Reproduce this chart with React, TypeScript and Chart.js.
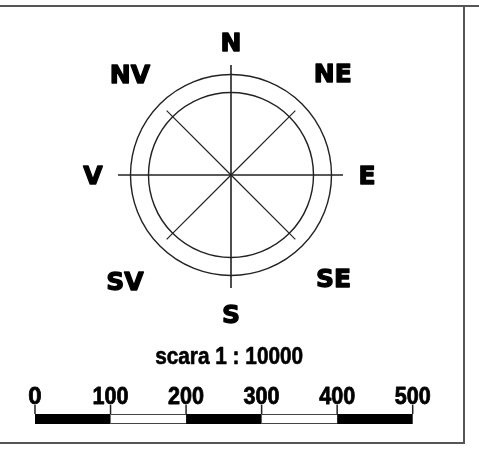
import React, { useEffect, useRef } from 'react';
import { Chart, registerables } from 'chart.js';
Chart.register(...registerables);

// Compass data
const directions = ['N', 'NE', 'E', 'SE', 'S', 'SV', 'V', 'NV'];
const bearings = [0, 45, 90, 135, 180, 225, 270, 315];
const spokeLengths = [110, 91, 112, 91, 113, 91, 113, 91];
const labelRadii = [133, 144, 136, 145, 139, 150, 138, 143];
const ringRadii = [100.5, 82.5];

// Scale bar data
const scaleTicks = [0, 100, 200, 300, 400, 500];
const scaleFilled = [true, false, true, false, true];
const scaleTitle = 'scara 1 : 10000';

const W = 479;
const H = 453;

function polar(bearingDeg: number, r: number) {
  const a = (bearingDeg * Math.PI) / 180;
  return { x: r * Math.sin(a), y: r * Math.cos(a) };
}

function heavyText(ctx: CanvasRenderingContext2D, t: string, x: number, y: number, stroke: number, maxW?: number) {
  ctx.lineWidth = stroke;
  ctx.lineJoin = 'round';
  if (maxW) {
    ctx.strokeText(t, x, y, maxW);
    ctx.fillText(t, x, y, maxW);
  } else {
    ctx.strokeText(t, x, y);
    ctx.fillText(t, x, y);
  }
}

const decorPlugin = {
  id: 'decor',
  afterDatasetsDraw(chart: any) {
    const ctx = chart.ctx as CanvasRenderingContext2D;
    const xs = chart.scales.x;
    const ys = chart.scales.y;
    const xb = chart.scales.xs;
    const cx = xs.getPixelForValue(0);
    const cy = ys.getPixelForValue(0);
    const unit = xs.getPixelForValue(1) - cx;
    ctx.save();

    // rings
    ctx.strokeStyle = '#222';
    ctx.lineWidth = 1.4;
    ringRadii.forEach((r) => {
      ctx.beginPath();
      ctx.arc(cx, cy, r * unit, 0, Math.PI * 2);
      ctx.stroke();
    });

    // direction labels
    const size = 25;
    ctx.font = `bold ${size}px 'DejaVu Sans'`;
    ctx.fillStyle = '#000';
    ctx.strokeStyle = '#000';
    ctx.textAlign = 'center';
    ctx.textBaseline = 'alphabetic';
    directions.forEach((d, i) => {
      const p = polar(bearings[i], labelRadii[i]);
      const px = xs.getPixelForValue(p.x);
      const py = ys.getPixelForValue(p.y);
      heavyText(ctx, d, px, py + (size * 0.729) / 2, 1.3);
    });

    // scale bar
    const barTop = ys.getPixelForValue(-239);
    const barBot = ys.getPixelForValue(-249);
    const tickTop = ys.getPixelForValue(-230);
    for (let i = 0; i < scaleTicks.length - 1; i++) {
      const x0 = xb.getPixelForValue(scaleTicks[i]);
      const x1 = xb.getPixelForValue(scaleTicks[i + 1]);
      if (scaleFilled[i]) {
        ctx.fillStyle = '#000';
        ctx.fillRect(x0, barTop, x1 - x0, barBot - barTop);
      } else {
        ctx.strokeStyle = '#444';
        ctx.lineWidth = 1.2;
        ctx.beginPath();
        ctx.moveTo(x0, barTop + 0.5);
        ctx.lineTo(x1, barTop + 0.5);
        ctx.moveTo(x0, barBot - 0.5);
        ctx.lineTo(x1, barBot - 0.5);
        ctx.stroke();
      }
    }
    ctx.strokeStyle = '#222';
    ctx.lineWidth = 1.5;
    scaleTicks.forEach((t) => {
      const x = xb.getPixelForValue(t);
      ctx.beginPath();
      ctx.moveTo(x, tickTop);
      ctx.lineTo(x, barTop);
      ctx.stroke();
    });
    ctx.fillStyle = '#000';
    ctx.strokeStyle = '#000';
    ctx.font = "bold 24px 'Liberation Sans', Arial";
    scaleTicks.forEach((t) => {
      const x = xb.getPixelForValue(t);
      heavyText(ctx, String(t), x, ys.getPixelForValue(-229), 0.8, 36);
    });
    ctx.font = "bold 23px 'Liberation Sans', Arial";
    heavyText(ctx, scaleTitle, xb.getPixelForValue(257), ys.getPixelForValue(-189), 0.6, 148);

    // frame
    ctx.strokeStyle = '#555';
    ctx.lineWidth = 2;
    ctx.beginPath();
    ctx.moveTo(0, 6);
    ctx.lineTo(W, 6);
    ctx.moveTo(464, 6);
    ctx.lineTo(464, 443);
    ctx.moveTo(0, 443);
    ctx.lineTo(465, 443);
    ctx.stroke();

    ctx.restore();
  },
};

export default function App() {
  const ref = useRef<HTMLCanvasElement | null>(null);
  useEffect(() => {
    if (!ref.current) return;
    const datasets = directions.map((d, i) => {
      const end = polar(bearings[i], spokeLengths[i]);
      const cardinal = bearings[i] % 90 === 0;
      return {
        label: d,
        data: [{ x: 0, y: 0 }, end],
        showLine: true,
        borderColor: '#222',
        borderWidth: cardinal ? 1.6 : 1.2,
        pointRadius: 0,
        fill: false,
      };
    });
    const pxPerUnitBar = (412.7 - 35) / 500;
    const xsMin = -35 / pxPerUnitBar;
    const xsMax = xsMin + W / pxPerUnitBar;
    const chart = new Chart(ref.current, {
      type: 'scatter',
      data: { datasets },
      options: {
        responsive: false,
        maintainAspectRatio: false,
        animation: false,
        layout: { padding: 0 },
        plugins: { legend: { display: false }, tooltip: { enabled: false }, title: { display: false } },
        events: [],
        scales: {
          x: { type: 'linear', min: -231, max: W - 231, display: false },
          y: { type: 'linear', min: -(H - 175), max: 175, display: false },
          xs: { type: 'linear', axis: 'x', min: xsMin, max: xsMax, display: false },
        },
      },
      plugins: [decorPlugin],
    });
    return () => chart.destroy();
  }, []);
  return (
    <div style={{ position: 'absolute', left: 0, top: 0, width: W, height: H, background: '#fff' }}>
      <canvas ref={ref} width={W} height={H} style={{ display: 'block', width: W, height: H }} />
    </div>
  );
}
